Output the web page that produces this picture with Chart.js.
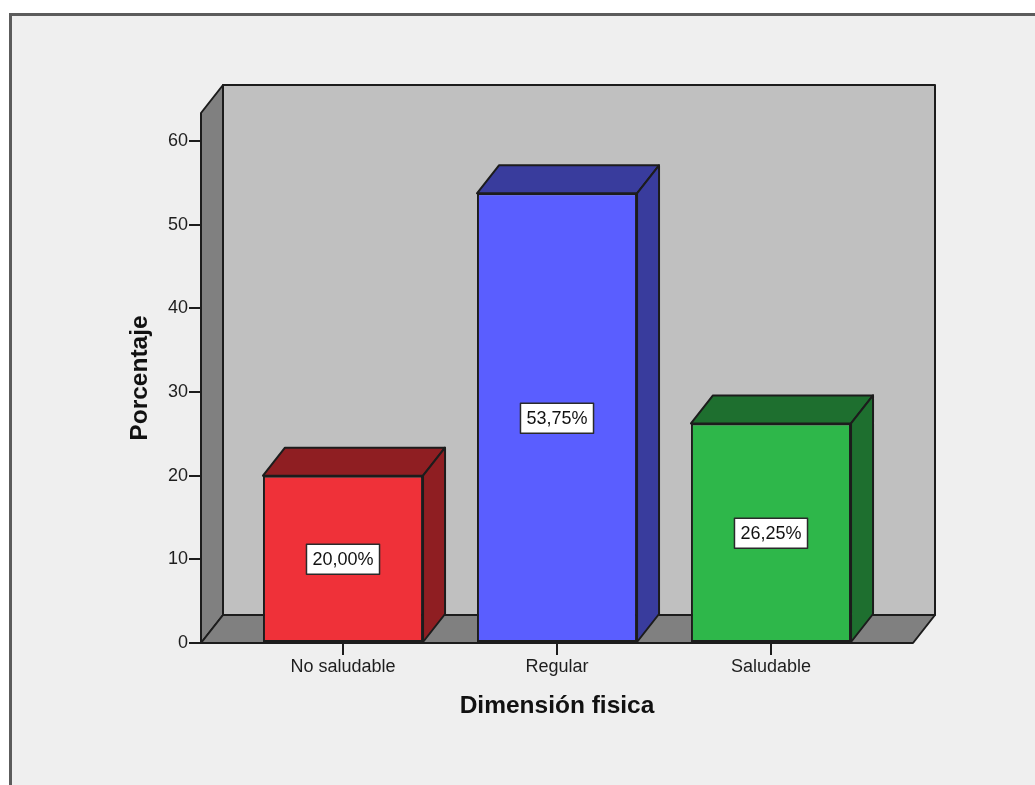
<!DOCTYPE html>
<html>
<head>
<meta charset="utf-8">
<script src="https://cdn.jsdelivr.net/npm/chart.js@4.4.1/dist/chart.umd.min.js"></script>
<style>
  html, body { margin: 0; padding: 0; background: #ffffff; overflow: hidden; width: 1035px; height: 785px; }
  #panel { position: absolute; left: 9px; top: 13px; width: 1100px; height: 900px; background: #efefef;
           border-left: 3px solid #5c5c5c; border-top: 3px solid #5c5c5c; }
  #chart { position: absolute; left: 0; top: 0; }
</style>
</head>
<body>
<div id="panel"></div>
<canvas id="chart" width="1035" height="785"></canvas>
<script>
// ---- data ----
const categories = ['No saludable', 'Regular', 'Saludable'];
const percentages = [20.00, 53.75, 26.25];
const yTicks = [0, 10, 20, 30, 40, 50, 60];
const frontColors = ['#ef3139', '#5a5eff', '#2eb74a'];
const shadeColors = ['#8f1e22', '#393c9d', '#1e6f2f'];
const xTitle = 'Dimensión fisica';
const yTitle = 'Porcentaje';

// ---- axis extents and 3D depth ----
const Y_MAX = 63.35;          // top edge of the side wall
const X_PAD = 0.6636;         // floor overhang on each side, in category units
const DEPTH = { dx: 22, dy: -28 };
const EDGE = '#1c1c1c';
const FONT = "'Liberation Sans', Arial, sans-serif";

Chart.defaults.font.family = FONT;

function poly(ctx, pts, fill) {
  ctx.beginPath();
  ctx.moveTo(pts[0][0], pts[0][1]);
  for (let i = 1; i < pts.length; i++) ctx.lineTo(pts[i][0], pts[i][1]);
  ctx.closePath();
  ctx.fillStyle = fill;
  ctx.fill();
  ctx.stroke();
}

const fmt = v => v.toFixed(2).replace('.', ',') + '%';

// walls/floor behind the bars, then box tops, sides and value labels
const box3d = {
  id: 'box3d',
  beforeDatasetsDraw(chart) {
    const { ctx, chartArea: a, scales: { y } } = chart;
    const { dx, dy } = DEPTH;
    const L = a.left, R = a.right, T = y.getPixelForValue(Y_MAX), B = y.getPixelForValue(0);
    ctx.save();
    ctx.lineJoin = 'round';
    ctx.lineWidth = 2;
    ctx.strokeStyle = EDGE;
    poly(ctx, [[L + dx, T + dy], [R + dx, T + dy], [R + dx, B + dy], [L + dx, B + dy]], '#c0c0c0');
    poly(ctx, [[L, B], [L, T], [L + dx, T + dy], [L + dx, B + dy]], '#808080');
    poly(ctx, [[L, B], [R, B], [R + dx, B + dy], [L + dx, B + dy]], '#808080');
    ctx.restore();
  },
  afterDatasetsDraw(chart) {
    const { ctx, scales: { y } } = chart;
    const { dx, dy } = DEPTH;
    const meta = chart.getDatasetMeta(0);
    ctx.save();
    ctx.lineJoin = 'round';
    ctx.lineWidth = 2;
    ctx.strokeStyle = EDGE;
    meta.data.forEach((bar, i) => {
      const { x, y: top, width, base } = bar.getProps(['x', 'y', 'width', 'base'], true);
      const l = x - width / 2, r = x + width / 2;
      poly(ctx, [[l, top], [r, top], [r + dx, top + dy], [l + dx, top + dy]], shadeColors[i]);
      poly(ctx, [[r, top], [r + dx, top + dy], [r + dx, base + dy], [r, base]], shadeColors[i]);
    });
    // value labels centred halfway up each bar
    ctx.font = '18px ' + FONT;
    ctx.textAlign = 'center';
    ctx.textBaseline = 'middle';
    meta.data.forEach((bar, i) => {
      const v = percentages[i];
      const txt = fmt(v);
      const cx = bar.x;
      const cy = y.getPixelForValue(v / 2);
      const w = ctx.measureText(txt).width + 12;
      const h = 30;
      ctx.fillStyle = '#ffffff';
      ctx.strokeStyle = '#2a2a2a';
      ctx.lineWidth = 1.5;
      ctx.fillRect(cx - w / 2, cy - h / 2, w, h);
      ctx.strokeRect(cx - w / 2, cy - h / 2, w, h);
      ctx.fillStyle = '#111111';
      ctx.fillText(txt, cx, cy + 1);
    });
    ctx.restore();
  }
};

new Chart(document.getElementById('chart'), {
  type: 'bar',
  data: {
    datasets: [{
      data: categories.map((c, i) => ({ x: i, y: percentages[i] })),
      backgroundColor: frontColors,
      borderColor: EDGE,
      borderWidth: 2,
      borderSkipped: false,
      barPercentage: 0.748,
      categoryPercentage: 1
    }]
  },
  options: {
    responsive: false,
    animation: false,
    devicePixelRatio: 1,
    layout: { padding: { left: 122, right: 122, top: 113, bottom: 60 } },
    plugins: { legend: { display: false }, tooltip: { enabled: false } },
    scales: {
      x: {
        type: 'linear',
        offset: false,
        min: -X_PAD,
        max: categories.length - 1 + X_PAD,
        afterBuildTicks: s => { s.ticks = categories.map((c, i) => ({ value: i })); },
        afterFit: s => { s.height = 82; },
        grid: { offset: false, drawOnChartArea: false, tickLength: 12, color: EDGE, lineWidth: 2 },
        border: { display: false },
        ticks: {
          padding: 1, maxRotation: 0, autoSkip: false, color: '#1e1e1e',
          font: { size: 18 },
          callback: v => categories[v] ?? ''
        },
        title: {
          display: true, text: xTitle, color: '#111',
          font: { size: 24.5, weight: 'bold' }, padding: { top: 4, bottom: 4 }
        }
      },
      y: {
        min: 0,
        max: Y_MAX,
        afterBuildTicks: s => { s.ticks = yTicks.map(v => ({ value: v })); },
        afterFit: s => { s.width = 79; },
        grid: { drawOnChartArea: false, tickLength: 12, color: EDGE, lineWidth: 2 },
        border: { display: false },
        ticks: { padding: 1, color: '#1e1e1e', font: { size: 18 } },
        title: {
          display: true, text: yTitle, color: '#111',
          font: { size: 24.5, weight: 'bold' }, padding: { top: 4, bottom: 4 }
        }
      }
    }
  },
  plugins: [box3d]
});
</script>
</body>
</html>
